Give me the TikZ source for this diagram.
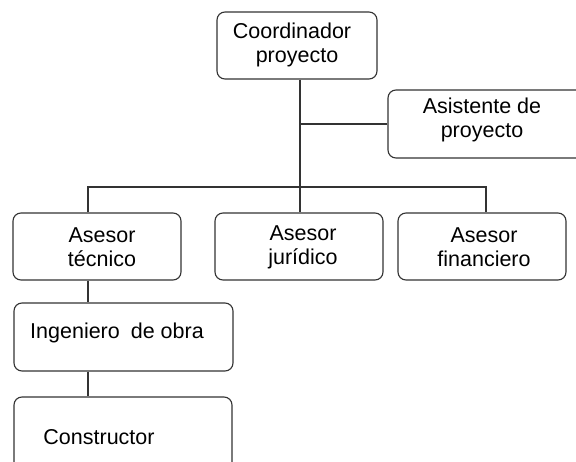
\documentclass[tikz,border=0pt]{standalone}
\usepackage{fontspec}
\setmainfont{Liberation Sans}
\begin{document}
\begin{tikzpicture}[x=1pt,y=-1pt,
  box/.style={draw=black!80, line width=1.1pt, rounded corners=8pt, fill=white, inner sep=0pt},
  txt/.style={font=\fontsize{21.5}{24}\selectfont, align=center, inner sep=0pt, text=black},
  link/.style={draw=black!80, line width=1.8pt}]
\clip (0,0) rectangle (576,461);
\fill[white] (0,0) rectangle (576,461);

% boxes
\node[box, minimum width=160pt, minimum height=67pt] (coord) at (297,45.5) {};
\node[box, minimum width=204pt, minimum height=68pt] (asist) at (490,124) {};
\node[box, minimum width=168pt, minimum height=67pt] (tec) at (97,246.5) {};
\node[box, minimum width=168pt, minimum height=67pt] (jur) at (299,246.5) {};
\node[box, minimum width=168pt, minimum height=67pt] (fin) at (482,246.5) {};
\node[box, minimum width=219pt, minimum height=68pt] (ing) at (123.5,337) {};
\node[box, minimum width=218pt, minimum height=80pt] (cons) at (123,437) {};

% labels
\node[txt] (tcoord) at (292,45) {Coordinador\\\hspace*{10pt}proyecto};
\node[txt] (tasist) at (482,120) {Asistente de\\proyecto};
\node[txt] (ttec) at (102,247) {Asesor\\técnico};
\node[txt] (tjur) at (303,247) {Asesor\\jurídico};
\node[txt] (tfin) at (484,247) {Asesor\\financiero};
\node[txt] (ting) at (117,333) {Ingeniero\hspace{5pt} de obra};
\node[txt] (tcons) at (99,437) {Constructor};

% connectors
\coordinate (hub) at (300,187);
\coordinate (dt) at (88,187);
\coordinate (df) at (486,187);
\draw[link] (coord.south -| hub) -- (hub);
\draw[link] (asist.west) -- (asist.west -| hub);
\draw[link] (dt |- tec.north) -- (dt) -- (df) -- (df |- fin.north);
\draw[link] (hub) -- (hub |- jur.north);
\draw[link] (dt |- tec.south) -- (dt |- ing.north);
\draw[link] (dt |- ing.south) -- (dt |- cons.north);
\end{tikzpicture}
\end{document}
